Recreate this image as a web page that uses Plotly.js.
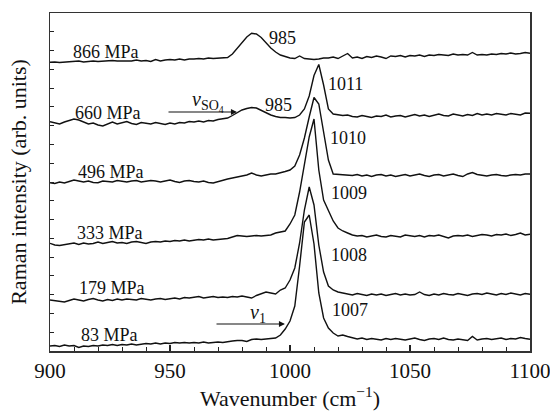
<!DOCTYPE html>
<html>
<head>
<meta charset="utf-8">
<script src="https://cdn.plot.ly/plotly-3.0.1.min.js"></script>
<style>html,body{margin:0;padding:0;background:#fff}#chart{width:550px;height:412px}</style>
</head>
<body>
<div id="chart"></div>
<script>
// Wavenumbers (cm^-1)
var wavenumber = [900,902,904,906,908,910,912,914,916,918,920,922,924,926,928,930,932,934,936,938,
940,942,944,946,948,950,952,954,956,958,960,962,964,966,968,970,972,974,976,978,
980,982,984,986,988,990,992,994,996,998,1000,1002,1004,1006,1008,1010,1012,1014,1016,1018,
1020,1022,1024,1026,1028,1030,1032,1034,1036,1038,1040,1042,1044,1046,1048,1050,1052,1054,1056,1058,
1060,1062,1064,1066,1068,1070,1072,1074,1076,1078,1080,1082,1084,1086,1088,1090,1092,1094,1096,1098,1100];

// Stacked Raman intensities (arb. units, offsets included)
var s866 = [288.7,289,288.5,289,289.5,289.5,290,289,289.5,290,289.5,290,290,290.5,290,290,290.5,290,291,290,
290.5,289.5,291.5,290,291,291.5,291,292,291,292,292,292.5,292,293,292.5,293,293,293.5,297,302.5,
308,314,317.7,317,313.5,308,303,299,296,294.5,293,292.5,295,292.5,292,291.5,292,293,293,294,
292.5,295,297.5,293,294,292.5,294.5,293.5,295,294,292.5,295,294.5,295.5,294,295.5,295,296,294.5,296,
295.5,296.5,296,295.5,297,296,296.5,296,298.5,296,296.5,296,297,296.5,297.5,297,298,297,297.5,298.5,297.7];

var s660 = [229.3,228,227,229,230.5,232,231,229,227,228,226,225,227,229,227,228,229.5,227.5,226.5,228.5,
228,227,228.5,227.5,226.5,228,227,228.5,228,229.5,229,230,229,230.5,230,231.5,232.5,233,235.5,238,
241,242.5,243.5,243,240.5,238.5,236,234.5,233.5,233.5,233,233.5,236,242,255,275.5,286.5,266,242,237,
236,235.5,236,234.5,234,235.5,234.5,233.5,235,234.5,236,234,235,235.5,234,235,236.5,235,236,234.5,
236,237,235.5,235,237,236,235,236.5,235.5,237.5,236,237,236,237.5,236.5,236,237.5,237,236,238,237.7];

var s496 = [168.3,167.5,169,168,169.5,171,170,169,170,168.5,168.3,170,169.5,169,170.5,170,169,170,170.5,169,
169.5,170.5,170,169,170,171,169.5,168.5,170,170.5,169.5,169,170,168.5,168,169.5,171,172,173,174,
174.5,176,178,176,175,176,177,177,178,179.5,181,185,196,213,234,253.5,247,217,191,177,
176.5,176,176,175.5,176.5,175,176,174.5,176,176.5,175,176,174.5,175.5,176.5,175,176,177,175.5,174.5,
176,176.5,175,176,177,175.5,174.5,177,178.5,176.5,175.5,175,176,176.5,175.5,175,176,176.5,176,177,177];

var s333 = [107.7,106,105.5,106.5,107,108,106.5,108,107,107.5,109,107.5,108.5,109.5,108,108.5,107.5,109,109.5,108.5,
107.5,109,109.5,109,110,109.5,110.5,110,111,110,110.5,111.5,111,112,111,111.5,112,112.5,114,115.5,
115,114.5,115,115.5,115,115.5,116,118,119,120,127,136,159,186,214,232,181,151,140,130,
123,120,118,116,115,115.5,114,115,116,114.5,114,115.5,114.5,114,116,115,114.5,115.5,114,115.5,
115,116,114.5,113,115,115.5,115,116,114.5,115.5,116.5,116,115,116.5,116,117,115.5,116.5,118,116,116.7];

var s179 = [51,50.5,49.5,49,50.5,52,51,50,51.5,52.5,51,50,51.5,50.5,52,51,52,51.5,51,52.5,
51.5,51,52,52.5,51.5,52.5,53,52,53.5,53,54,54.5,53,53.5,54.5,53.5,54,53.5,54.5,54,
55,54,53,55.5,57.5,59,58,57,61,63,71,83,108,141,164,146,106,79,65,61,
59,58,56.5,56,57.5,56.5,55.5,57,56,57,55.5,56.5,57.5,56,57,56,56.5,59,56.5,55.5,
57,56,57.5,56.5,56,57.5,56.5,55.5,57,57.5,56.5,58,57,56,57.5,56.5,58,57,56,57.5,56.7];

var s83 = [5,5.5,4.5,6,5,5.5,3.5,5,4.5,5.5,5,6,5.5,6.5,5.5,6.5,6,7,6,6.5,
7.5,7,8,7,8,7.5,8.5,8,8.5,8,8.5,8,9,8,8.5,9,8.5,9.5,10,10.5,
10.5,9.5,11.5,12,11.5,12,12.5,13,16,22,30,45,85,129,136,107,58,33,23,18,
15,16,14.5,13,12,13,11.5,12.5,12,11,12.5,11.5,12.5,11.5,11,12,13,11.5,10.5,12,
12.5,11.5,13,11.5,11,12,11.5,10.5,14.5,11,12,12.5,11.5,12,13,11.5,12.5,12,13.5,12.5,11.7];

var pressures = ['866 MPa','660 MPa','496 MPa','333 MPa','179 MPa','83 MPa'];
var peakLabels = ['985','985','1011','1010','1009','1008','1007'];
var modeLabels = ['<i>ν</i><sub>SO<sub>4</sub></sub>','<i>ν</i><sub>1</sub>'];

var series = [s866, s660, s496, s333, s179, s83];
var FONT = 'Liberation Serif';

var traces = series.map(function (s, i) {
  return {x: wavenumber, y: s, type: 'scatter', mode: 'lines', name: pressures[i],
          line: {color: '#111', width: 1.4}, hoverinfo: 'skip'};
});

// annotation placements
var pressPos = [[923.5,299],[924,238],[925.4,179],[924.8,118],[926,63],[924.6,16]];
var peakPos = [[996.7,313],[995.4,246.5],[1023.1,267],[1024,213.5],[1024.6,158.5],[1024.6,96],[1025,41]];
var ann = [];
pressures.forEach(function (t, i) {
  ann.push({x: pressPos[i][0], y: pressPos[i][1], xref: 'x', yref: 'y', text: t, showarrow: false,
            font: {family: FONT, size: 18, color: '#111'}});
});
peakLabels.forEach(function (t, i) {
  ann.push({x: peakPos[i][0], y: peakPos[i][1], xref: 'x', yref: 'y', text: t, showarrow: false,
            font: {family: FONT, size: 18, color: '#111'}});
});
// arrows
ann.push({x: 977.9, y: 239, ax: 948.75, ay: 239, xref: 'x', yref: 'y', axref: 'x', ayref: 'y',
          text: '', showarrow: true, arrowhead: 2, arrowsize: 1, arrowwidth: 1.2, arrowcolor: '#111'});
ann.push({x: 997.9, y: 27, ax: 968.75, ay: 27, xref: 'x', yref: 'y', axref: 'x', ayref: 'y',
          text: '', showarrow: true, arrowhead: 2, arrowsize: 1, arrowwidth: 1.2, arrowcolor: '#111'});
ann.push({x: 965.8, y: 250, xref: 'x', yref: 'y', text: modeLabels[0], showarrow: false,
          font: {family: FONT, size: 20, color: '#111'}});
ann.push({x: 986.7, y: 38, xref: 'x', yref: 'y', text: modeLabels[1], showarrow: false,
          font: {family: FONT, size: 20, color: '#111'}});

var layout = {
  width: 550, height: 412,
  margin: {l: 50, r: 20, t: 13, b: 61},
  paper_bgcolor: '#fff', plot_bgcolor: '#fff',
  showlegend: false,
  font: {family: FONT, color: '#111'},
  xaxis: {
    range: [900, 1100], tickvals: [900, 950, 1000, 1050, 1100],
    ticks: 'inside', ticklen: 6, tickwidth: 1.2, tickcolor: '#222',
    minor: {dtick: 10, tick0: 900, ticks: 'inside', ticklen: 4, tickwidth: 1, tickcolor: '#222'},
    showline: true, linecolor: '#333', linewidth: 1.5, mirror: true,
    showgrid: false, zeroline: false, ticklabeloverflow: 'allow',
    tickfont: {family: FONT, size: 21, color: '#111'},
    title: {text: 'Wavenumber (cm<sup>−1</sup>)', font: {family: FONT, size: 22, color: '#111'}, standoff: 8},
    automargin: false
  },
  yaxis: {
    range: [0, 338], tick0: 0, dtick: 338 / 18,
    ticks: 'inside', ticklen: 4, tickwidth: 1, tickcolor: '#222',
    showticklabels: false,
    showline: true, linecolor: '#333', linewidth: 1.5, mirror: true,
    showgrid: false, zeroline: false,
    title: {text: 'Raman intensity (arb. units)', font: {family: FONT, size: 22, color: '#111'}, standoff: 16},
    automargin: false
  },
  annotations: ann
};

Plotly.newPlot('chart', traces, layout, {staticPlot: true, displayModeBar: false});
</script>
</body>
</html>
